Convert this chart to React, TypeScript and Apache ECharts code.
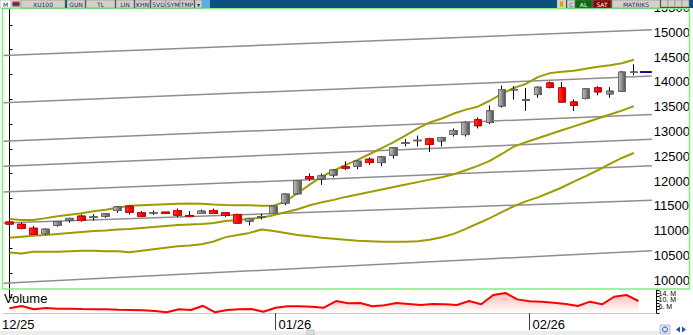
import React, { useEffect, useRef } from "react";
import * as echarts from "echarts";

// ---- data ----
const dates = [
  "2025-12-02","2025-12-03","2025-12-04","2025-12-05","2025-12-08","2025-12-09","2025-12-10","2025-12-11","2025-12-12",
  "2025-12-15","2025-12-16","2025-12-17","2025-12-18","2025-12-19","2025-12-22","2025-12-23","2025-12-24","2025-12-25",
  "2025-12-26","2025-12-29","2025-12-30","2025-12-31",
  "2026-01-02","2026-01-05","2026-01-06","2026-01-07","2026-01-08","2026-01-09","2026-01-12","2026-01-13","2026-01-14",
  "2026-01-15","2026-01-16","2026-01-19","2026-01-20","2026-01-21","2026-01-22","2026-01-23","2026-01-26","2026-01-27",
  "2026-01-28","2026-01-29","2026-01-30",
  "2026-02-02","2026-02-03","2026-02-04","2026-02-05","2026-02-06","2026-02-09","2026-02-10","2026-02-11","2026-02-12",
  "2026-02-13",
  "",
];

// [open, close, low, high]
const candles = [
  [11024, 10984, 10964, 11044],
  [10978, 10899, 10879, 11014],
  [10899, 10779, 10765, 10944],
  [10791, 10879, 10765, 10895],
  [10958, 11030, 10930, 11044],
  [11064, 11097, 11010, 11113],
  [11143, 11058, 11030, 11177],
  [11117, 11127, 11054, 11183],
  [11143, 11189, 11109, 11203],
  [11256, 11328, 11209, 11342],
  [11342, 11223, 11177, 11362],
  [11209, 11143, 11133, 11243],
  [11207, 11213, 11169, 11256],
  [11223, 11197, 11193, 11229],
  [11256, 11163, 11123, 11296],
  [11157, 11137, 11133, 11243],
  [11197, 11243, 11193, 11276],
  [11256, 11197, 11193, 11296],
  [11209, 11157, 11129, 11229],
  [11177, 11004, 10994, 11193],
  [11044, 11097, 10958, 11113],
  [11125, 11133, 11077, 11189],
  [11197, 11342, 11183, 11352],
  [11408, 11586, 11362, 11600],
  [11594, 11859, 11580, 11869],
  [11938, 11899, 11853, 12004],
  [11893, 11952, 11773, 12004],
  [11972, 12071, 11924, 12087],
  [12137, 12111, 12071, 12250],
  [12151, 12250, 12091, 12266],
  [12290, 12223, 12177, 12326],
  [12223, 12336, 12151, 12356],
  [12370, 12521, 12302, 12535],
  [12610, 12618, 12549, 12700],
  [12664, 12672, 12549, 12767],
  [12700, 12588, 12435, 12724],
  [12660, 12728, 12549, 12743],
  [12793, 12867, 12747, 12912],
  [12787, 13032, 12747, 13052],
  [13085, 12966, 12912, 13131],
  [13032, 13264, 12998, 13376],
  [13364, 13694, 13330, 13773],
  [13688, 13698, 13494, 13761],
  [13479, 13487, 13264, 13728],
  [13594, 13741, 13529, 13757],
  [13827, 13741, 13718, 13857],
  [13728, 13443, 13439, 13847],
  [13443, 13376, 13264, 13495],
  [13515, 13708, 13495, 13718],
  [13728, 13648, 13582, 13761],
  [13608, 13662, 13529, 13741],
  [13662, 14046, 13648, 14066],
  [14040, 14048, 13980, 14205],
];

const upperBand = [
  11083, 11064, 11064, 11103, 11143, 11173, 11203, 11243, 11272, 11312, 11352, 11362, 11372, 11382, 11392, 11396,
  11392, 11376, 11368, 11362, 11362, 11352, 11352, 11441, 11610, 11779, 11938, 12058, 12177, 12276, 12396, 12515,
  12634, 12773, 12912, 13032, 13111, 13211, 13290, 13350, 13469, 13608, 13728, 13807, 13946, 14026, 14056, 14075,
  14115, 14155, 14185, 14225, 14294,
];
const middleBand = [
  10706, 10726, 10746, 10765, 10785, 10805, 10825, 10845, 10855, 10875, 10885, 10905, 10924, 10944, 10964, 10974,
  10984, 11004, 11044, 11064, 11083, 11113, 11163, 11223, 11282, 11362, 11421, 11471, 11531, 11580, 11630, 11680,
  11730, 11779, 11829, 11879, 11928, 11988, 12068, 12157, 12256, 12396, 12545, 12634, 12714, 12793, 12873, 12952,
  13032, 13111, 13191, 13270, 13360,
];
const lowerBand = [
  10408, 10388, 10427, 10427, 10427, 10437, 10447, 10447, 10437, 10437, 10417, 10447, 10477, 10507, 10537, 10553,
  10577, 10632, 10720, 10765, 10805, 10875, 10845, 10805, 10765, 10736, 10706, 10686, 10666, 10646, 10636, 10626,
  10626, 10626, 10636, 10666, 10716, 10785, 10885, 10994, 11103, 11223, 11342, 11441, 11521, 11620, 11720, 11839,
  11948, 12068, 12197, 12316, 12415,
];

// volume in millions
const volumeM = [
  4.9, 6.3, 4.3, 5.0, 4.6, 4.6, 4.4, 4.3, 4.3, 4.0, 3.8, 3.6, 3.2, 2.4, 4.3, 3.8, 6.4, 2.4, 3.8, 4.3, 4.4, 2.8,
  5.2, 6.1, 6.1, 5.8, 5.2, 9.3, 7.9, 8.1, 6.1, 6.7, 8.1, 7.5, 6.9, 7.5, 7.3, 6.9, 9.3, 7.3, 13.0, 14.2, 10.3,
  9.1, 8.9, 8.3, 7.5, 6.3, 8.9, 7.3, 11.9, 13.0, 9.3,
];

// gray channel lines: value at left edge and right edge of the plot
const trendLeft = [14383, 13429, 12654, 12147, 11630, 11004, 9791];
const trendRight = [14900, 13966, 13191, 12694, 12157, 11461, 10447];

const monthTickLabels = ["12/25", "01/26", "02/26"];
const monthStartIndex = [0, 22, 43];
const volumeLabelTicks = [6, 10, 14];

const FONT = "Liberation Sans";

export default function App() {
  const ref = useRef<HTMLDivElement>(null);

  useEffect(() => {
    if (!ref.current) return;
    const chart = echarts.init(ref.current, undefined, { renderer: "svg" });

    const grayGrad = new echarts.graphic.LinearGradient(0, 0, 1, 0, [
      { offset: 0, color: "#c4c4c4" },
      { offset: 0.5, color: "#8c8c8c" },
      { offset: 1, color: "#4c4c4c" },
    ]);
    const redGrad = new echarts.graphic.LinearGradient(0, 0, 1, 0, [
      { offset: 0, color: "#ff3a3a" },
      { offset: 0.6, color: "#ff0000" },
      { offset: 1, color: "#c80000" },
    ]);

    const n = candles.length;
    const lastClose = candles[n - 1][1];
    const xMax = dates.length - 0.5;

    const trendSeries = trendLeft.map((l, i) => ({
      type: "line",
      xAxisIndex: 1,
      yAxisIndex: 0,
      data: [
        [-0.5, l],
        [xMax, trendRight[i]],
      ],
      symbol: "none",
      silent: true,
      lineStyle: { color: "#8e8e8e", width: 1.5 },
      z: 1,
    }));

    const bandSeries = [upperBand, middleBand, lowerBand].map((d) => ({
      type: "line",
      xAxisIndex: 0,
      yAxisIndex: 0,
      data: d,
      symbol: "none",
      silent: true,
      lineStyle: { color: "#9c9c00", width: 2 },
      z: 2,
    }));

    const tb = (x: number, w: number, label: string, fill = "#d4d0c8", color = "#1a2a6a") => [
      { type: "rect", z: 100, shape: { x, y: 0, width: w, height: 8 }, style: { fill, stroke: "#7a7a7a", lineWidth: 0.5 } },
      {
        type: "text",
        z: 101,
        x: x + w / 2,
        y: 4.3,
        style: { text: label, fill: color, fontSize: 6, fontFamily: "DejaVu Sans", align: "center", verticalAlign: "middle" },
      },
    ];

    const option: any = {
      animation: false,
      backgroundColor: "#ffffff",
      grid: [
        { left: 3.5, width: 653, top: -4.15, height: 301.8 },
        { left: 3.5, width: 653, top: 290, height: 23 },
      ],
      xAxis: [
        { type: "category", gridIndex: 0, data: dates, boundaryGap: true, show: false },
        { type: "value", gridIndex: 0, min: -0.5, max: xMax, show: false },
        {
          type: "category",
          gridIndex: 1,
          data: dates,
          boundaryGap: true,
          axisLine: { show: true, lineStyle: { color: "#c8c8c8", width: 1 } },
          axisTick: {
            show: true,
            alignWithLabel: true,
            length: 17,
            interval: (idx: number) => idx === monthStartIndex[1] || idx === monthStartIndex[2],
            lineStyle: { color: "#404040", width: 1 },
          },
          axisLabel: {
            interval: (idx: number) => idx === monthStartIndex[1] || idx === monthStartIndex[2],
            formatter: (_v: string, idx: number) => {
              const k = monthStartIndex.indexOf(idx);
              return k >= 0 ? monthTickLabels[k] : "";
            },
            align: "left",
            padding: [0, 0, 0, 3],
            margin: 5,
            color: "#000",
            fontFamily: FONT,
            fontSize: 13,
          },
        },
      ],
      yAxis: [
        {
          type: "value",
          gridIndex: 0,
          position: "right",
          min: 9500,
          max: 15500,
          interval: 500,
          splitLine: { show: false },
          axisLine: { show: true, lineStyle: { color: "#000", width: 1 } },
          axisTick: { show: true, length: 3, lineStyle: { color: "#000" } },
          axisLabel: {
            margin: 2,
            color: "#000",
            fontFamily: FONT,
            fontSize: 13,
            verticalAlign: "top",
            padding: [1, 0, 0, 0],
            formatter: (v: number) => (v < 10000 ? "" : String(v)),
          },
        },
        {
          type: "value",
          gridIndex: 1,
          position: "right",
          min: 2,
          max: 16,
          interval: 2,
          splitLine: { show: false },
          axisLine: { show: true, lineStyle: { color: "#000", width: 1 } },
          axisTick: { show: true, length: 3, lineStyle: { color: "#000" } },
          axisLabel: {
            margin: 2,
            color: "#000",
            fontFamily: FONT,
            fontSize: 7,
            lineHeight: 6,
            formatter: (v: number) => (volumeLabelTicks.indexOf(v) >= 0 ? v + ". M" : ""),
          },
        },
      ],
      series: [
        ...trendSeries,
        ...bandSeries,
        {
          type: "candlestick",
          xAxisIndex: 0,
          yAxisIndex: 0,
          data: candles,
          barWidth: 8,
          silent: true,
          itemStyle: { color: grayGrad, color0: redGrad, borderColor: "#000", borderColor0: "#000", borderWidth: 1 },
          z: 3,
        },
        {
          type: "candlestick",
          xAxisIndex: 0,
          yAxisIndex: 0,
          data: candles.map((c) => [c[0], c[1], Math.min(c[0], c[1]), Math.max(c[0], c[1])]),
          barWidth: 8,
          silent: true,
          itemStyle: { color: grayGrad, color0: redGrad, borderColor: "#6e6e6e", borderColor0: "#d80000", borderWidth: 1 },
          z: 4,
        },
        {
          type: "line",
          xAxisIndex: 1,
          yAxisIndex: 0,
          data: [
            [n - 0.5, lastClose],
            [xMax, lastClose],
          ],
          symbol: "none",
          silent: true,
          lineStyle: { color: "#101090", width: 2 },
          z: 5,
        },
        {
          type: "line",
          xAxisIndex: 2,
          yAxisIndex: 1,
          data: volumeM,
          symbol: "none",
          silent: true,
          lineStyle: { color: "#ff0000", width: 2 },
          areaStyle: {
            color: new echarts.graphic.LinearGradient(0, 0, 0, 1, [
              { offset: 0, color: "#ff9c9c" },
              { offset: 1, color: "#ffffff" },
            ]),
          },
          z: 3,
        },
      ],
      graphic: [
        // plot frame
        { type: "rect", z: 90, shape: { x: 2.5, y: 8.5, width: 687, height: 280.5 }, style: { fill: "none", stroke: "#7cf27c", lineWidth: 1.5 } },
        // toolbar
        { type: "rect", z: 99, shape: { x: 0, y: 0, width: 693, height: 8 }, style: { fill: "#0d4f7e" } },
        ...tb(0, 11, "M", "#ffffff", "#1a2a6a"),
        { type: "rect", z: 100, shape: { x: 11, y: 0, width: 10, height: 8 }, style: { fill: "#d4d0c8" } },
        { type: "rect", z: 101, shape: { x: 12.5, y: 1.5, width: 7, height: 5 }, style: { fill: "#d02828" } },
        { type: "rect", z: 102, shape: { x: 12.5, y: 3, width: 7, height: 2 }, style: { fill: "#2040a0" } },
        ...tb(21, 44, "XU100"),
        ...tb(67, 18, "GUN"),
        ...tb(86, 29, "TL"),
        ...tb(116, 18, "LIN"),
        ...tb(135, 15, "KHN"),
        ...tb(151, 15, "SVD"),
        ...tb(166, 14, "SYM"),
        ...tb(180, 14, "TMP"),
        ...tb(195, 7, "▾"),
        { type: "rect", z: 100, shape: { x: 202, y: 0, width: 8, height: 8 }, style: { fill: "#5aaee8" } },
        { type: "rect", z: 100, shape: { x: 557, y: 0, width: 9, height: 8 }, style: { fill: "#d4d0c8" } },
        { type: "rect", z: 101, shape: { x: 560, y: 1.5, width: 3, height: 5 }, style: { fill: "#e0a000" } },
        ...tb(567, 8, "C", "#d4d0c8", "#10a040"),
        ...tb(575, 17, "AL", "#0b6a10", "#ffffff"),
        ...tb(593, 18, "SAT", "#8c0000", "#ffffff"),
        ...tb(612, 48, "MATRIKS", "#d4d0c8", "#2a2a7a"),
        { type: "rect", z: 100, shape: { x: 661, y: 0, width: 7, height: 7 }, style: { fill: "#d4d0c8", stroke: "#808080", lineWidth: 0.5 } },
        { type: "rect", z: 100, shape: { x: 668, y: 0, width: 7, height: 7 }, style: { fill: "#d4d0c8", stroke: "#808080", lineWidth: 0.5 } },
        { type: "rect", z: 100, shape: { x: 675, y: 0, width: 7, height: 7 }, style: { fill: "#d4d0c8", stroke: "#808080", lineWidth: 0.5 } },
        { type: "rect", z: 100, shape: { x: 682, y: 0, width: 7, height: 7 }, style: { fill: "#d4d0c8", stroke: "#808080", lineWidth: 0.5 } },
        // panel labels
        { type: "text", z: 95, x: 4, y: 298, style: { text: "Volume", fill: "#000", fontSize: 13, fontFamily: FONT, verticalAlign: "middle" } },
        { type: "text", z: 95, x: 2, y: 324.5, style: { text: monthTickLabels[0], fill: "#000", fontSize: 13, fontFamily: FONT, verticalAlign: "middle" } },
        // bottom scroll bar
        { type: "rect", z: 95, shape: { x: 0, y: 331, width: 660, height: 4 }, style: { fill: "#ececec" } },
        { type: "rect", z: 96, shape: { x: 307, y: 330, width: 7, height: 5 }, style: { fill: "#e0e0e0", stroke: "#909090", lineWidth: 0.5 } },
        { type: "rect", z: 96, shape: { x: 660, y: 325, width: 10, height: 9 }, style: { fill: "#dde4f0", stroke: "#7f8fb0", lineWidth: 0.5 } },
        { type: "circle", z: 97, shape: { cx: 665, cy: 329.5, r: 2.5 }, style: { fill: "none", stroke: "#2050c0", lineWidth: 1 } },
        { type: "polygon", z: 97, shape: { points: [[676, 329.5], [680, 326.5], [680, 332.5]] }, style: { fill: "#2050c0" } },
        { type: "polygon", z: 97, shape: { points: [[686, 329.5], [682, 326.5], [682, 332.5]] }, style: { fill: "#2050c0" } },
      ],
    };

    chart.setOption(option);
    return () => chart.dispose();
  }, []);

  return <div ref={ref} style={{ position: "absolute", left: 0, top: 0, width: 693, height: 335 }} />;
}
